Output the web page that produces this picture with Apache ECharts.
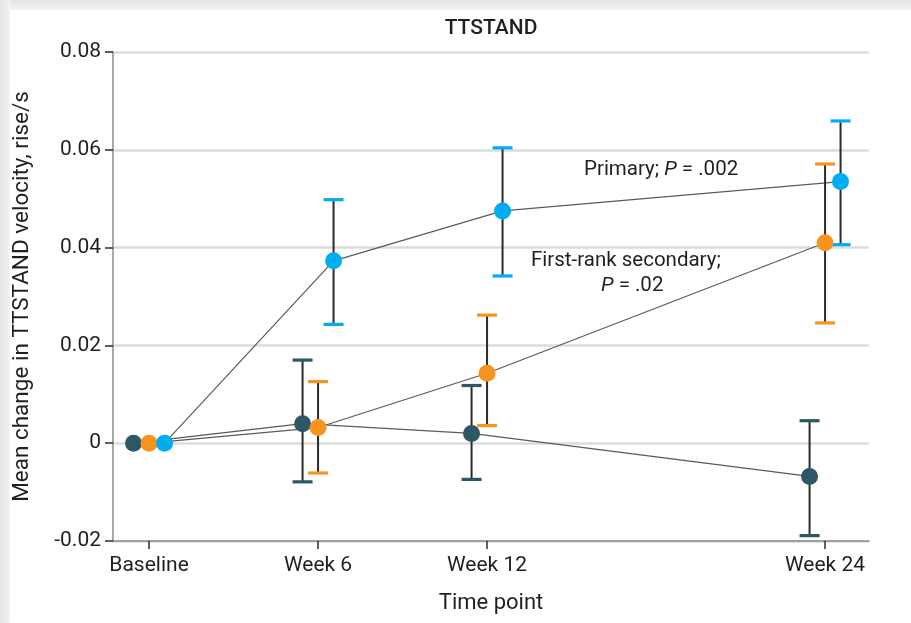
<!DOCTYPE html>
<html><head><meta charset="utf-8">
<script src="https://cdn.jsdelivr.net/npm/echarts@6/dist/echarts.min.js"></script>
<style>html,body{margin:0;padding:0;background:#fff}#c{width:911px;height:623px}</style>
</head><body><div id="c"></div>
<script>
// ---- data ----
const timeLabels = ["Baseline", "Week 6", "Week 12", "Week 24"];
const weeks = [0, 6, 12, 24];
const yTicks = [-0.02, 0, 0.02, 0.04, 0.06, 0.08];

const placeboMean = [0, 0.0040, 0.0020, -0.0068];
const placeboLow  = [0, -0.0079, -0.0074, -0.0189];
const placeboHigh = [0, 0.0170, 0.0118, 0.0046];

const secondaryMean = [0, 0.0032, 0.0143, 0.0410];
const secondaryLow  = [0, -0.0061, 0.0036, 0.0246];
const secondaryHigh = [0, 0.0126, 0.0262, 0.0571];

const primaryMean = [0, 0.0373, 0.0475, 0.0535];
const primaryLow  = [0, 0.0243, 0.0342, 0.0406];
const primaryHigh = [0, 0.0498, 0.0604, 0.0659];

const title = "TTSTAND";
const yName = "Mean change in TTSTAND velocity, rise/s";
const xName = "Time point";

// ---- styling ----
const FONT = "Roboto, 'Liberation Sans', sans-serif";
const TXT = '#231f20';
const groups = [
  {name: 'Placebo', color: '#2e5664', mean: placeboMean, low: placeboLow, high: placeboHigh, off: -0.55},
  {name: 'First-rank secondary', color: '#f7941d', mean: secondaryMean, low: secondaryLow, high: secondaryHigh, off: 0},
  {name: 'Primary', color: '#00aeef', mean: primaryMean, low: primaryLow, high: primaryHigh, off: 0.55}
];

const series = [];
groups.forEach((g, gi) => {
  const pts = weeks.map((w, i) => [w + g.off, g.mean[i]]);
  series.push({
    type: 'line', name: g.name + ' line', data: pts, showSymbol: false, symbol: 'none',
    lineStyle: {color: '#5a5a5a', width: 1.2}, z: 1, silent: true, animation: false
  });
});
groups.forEach((g, gi) => {
  series.push({
    type: 'custom', name: g.name + ' CI', z: 2, animation: false,
    encode: {x: 0, y: [1, 2]},
    data: weeks.map((w, i) => [w + g.off, g.low[i], g.high[i]]),
    renderItem: function (params, api) {
      const lo = api.value(1), hi = api.value(2);
      if (lo === hi) return null;
      const x = api.value(0);
      const a = api.coord([x, hi]), b = api.coord([x, lo]);
      const hw = 10;
      return {type: 'group', children: [
        {type: 'line', shape: {x1: a[0], y1: a[1], x2: b[0], y2: b[1]}, style: {stroke: '#2a2a2a', lineWidth: 2}},
        {type: 'line', shape: {x1: a[0] - hw, y1: a[1], x2: a[0] + hw, y2: a[1]}, style: {stroke: g.color, lineWidth: 3.2}},
        {type: 'line', shape: {x1: b[0] - hw, y1: b[1], x2: b[0] + hw, y2: b[1]}, style: {stroke: g.color, lineWidth: 3.2}}
      ]};
    }
  });
});
groups.forEach((g, gi) => {
  series.push({
    type: 'scatter', name: g.name, z: 3 + gi, animation: false,
    data: weeks.map((w, i) => [w + g.off, g.mean[i]]),
    symbolSize: 17, itemStyle: {color: g.color, opacity: 1}
  });
});

const chart = echarts.init(document.getElementById('c'), null, {renderer: 'canvas'});
chart.setOption({
  backgroundColor: '#ffffff',
  animation: false,
  textStyle: {fontFamily: FONT},
  grid: {left: 113, right: 42, top: 52, bottom: 82, containLabel: false},
  xAxis: {
    type: 'value', min: -1.28, max: 25.56,
    name: xName, nameLocation: 'middle', nameGap: 51,
    nameTextStyle: {fontFamily: FONT, fontSize: 22, color: TXT},
    axisLine: {show: true, onZero: false, lineStyle: {color: '#8c8c8c', width: 1.5}},
    axisTick: {show: true, customValues: weeks, length: 8, lineStyle: {color: '#2a2a2a', width: 1.5}},
    axisLabel: {show: true, customValues: weeks, margin: 14, fontFamily: FONT, fontSize: 21, color: TXT,
      formatter: v => timeLabels[weeks.indexOf(v)] || ''},
    splitLine: {show: false}
  },
  yAxis: {
    type: 'value', min: yTicks[0], max: yTicks[yTicks.length - 1], interval: 0.02,
    name: yName, nameLocation: 'middle', nameGap: 79, nameRotate: 90,
    nameTextStyle: {fontFamily: FONT, fontSize: 22.5, color: TXT},
    axisLine: {show: true, onZero: false, lineStyle: {color: '#8c8c8c', width: 1.5}},
    axisTick: {show: true, length: 8, lineStyle: {color: '#2a2a2a', width: 1.5}},
    axisLabel: {margin: 12, fontFamily: FONT, fontSize: 21, color: TXT,
      formatter: v => Math.abs(v) < 1e-9 ? '0' : v.toFixed(2)},
    splitLine: {show: true, lineStyle: {color: '#dcdcdc', width: 2.5}}
  },
  graphic: [
    {type: 'rect', shape: {x: 0, y: 0, width: 911, height: 10}, z: 100,
      style: {fill: new echarts.graphic.LinearGradient(0, 0, 0, 1, [{offset: 0, color: '#e4e4e4'}, {offset: 1, color: '#f3f3f3'}])}},
    {type: 'rect', shape: {x: 0, y: 0, width: 10, height: 623}, z: 100,
      style: {fill: new echarts.graphic.LinearGradient(0, 0, 1, 0, [{offset: 0, color: '#e6e6e6'}, {offset: 1, color: '#f3f3f3'}])}},
    {type: 'text', x: 491, y: 29, z: 100,
      style: {text: title, font: "500 21px " + FONT, fill: TXT, textAlign: 'center', textVerticalAlign: 'middle'}},
    {type: 'text', x: 584, y: 170, z: 100,
      style: {text: '{n|Primary; }{i|P}{n| = .002}', textVerticalAlign: 'middle',
        rich: {n: {fontFamily: FONT, fontSize: 20.5, fill: TXT, color: TXT},
               i: {fontFamily: FONT, fontSize: 20.5, fontStyle: 'italic', fill: TXT, color: TXT}}}},
    {type: 'text', x: 531, y: 261, z: 100,
      style: {text: '{n|First-rank secondary;}', textVerticalAlign: 'middle',
        rich: {n: {fontFamily: FONT, fontSize: 20.5, fill: TXT, color: TXT}}}},
    {type: 'text', x: 601, y: 286, z: 100,
      style: {text: '{i|P}{n| = .02}', textVerticalAlign: 'middle',
        rich: {n: {fontFamily: FONT, fontSize: 20.5, fill: TXT, color: TXT},
               i: {fontFamily: FONT, fontSize: 20.5, fontStyle: 'italic', fill: TXT, color: TXT}}}}
  ],
  series: series
});
</script>
</body></html>
